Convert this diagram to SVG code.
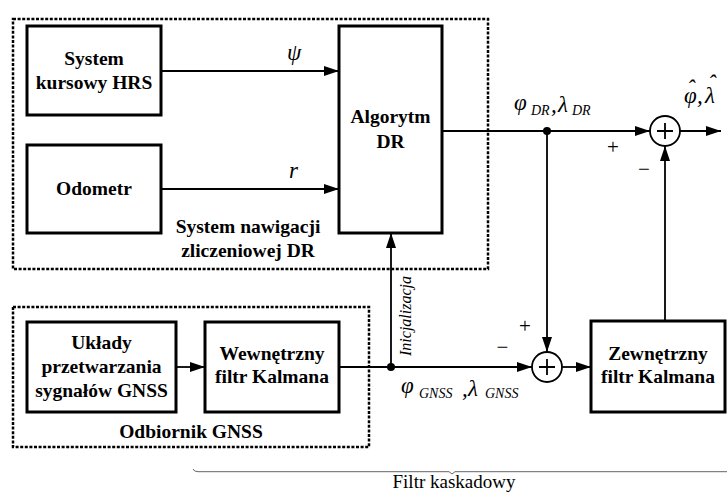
<svg xmlns="http://www.w3.org/2000/svg" width="727" height="492" viewBox="0 0 727 492">
<defs>
<marker id="arr" viewBox="0 0 15 10" refX="15" refY="5" markerWidth="15" markerHeight="10" orient="auto" markerUnits="userSpaceOnUse">
<path d="M0,0 L15,5 L0,10 z" fill="#000"/>
</marker>
</defs>
<style>
text{font-family:'Liberation Serif','Times New Roman',serif;fill:#000}
.box{fill:#fff;stroke:#000;stroke-width:3}
.dash{fill:none;stroke:#000;stroke-width:2.5;stroke-dasharray:3 1.6}
.ln{fill:none;stroke:#000;stroke-width:1.8}
.t{font-weight:bold;font-size:19.5px;text-anchor:middle}
.m{font-style:italic;font-size:23px}
.s{font-style:italic;font-size:14px}
.sg{font-size:21px;text-anchor:middle}
.sum{fill:#fff;stroke:#000;stroke-width:1.8}
</style>
<rect width="727" height="492" fill="#fff"/>

<g id="groups">
<rect id="dr-group" class="dash" x="13" y="19" width="475" height="250"/>
<text class="t" x="248" y="233">System nawigacji</text>
<text class="t" x="248" y="257">zliczeniowej DR</text>
<rect id="gnss-group" class="dash" x="13" y="307" width="356" height="140"/>
<text class="t" x="191" y="438">Odbiornik GNSS</text>
</g>

<g id="connectors">
<path class="ln" d="M161,71 H339" marker-end="url(#arr)"/>
<path class="ln" d="M161,189 H339" marker-end="url(#arr)"/>
<path class="ln" d="M442,131 H650" marker-end="url(#arr)"/>
<path class="ln" d="M680,131 H721" marker-end="url(#arr)"/>
<path class="ln" d="M665,321 V146" marker-end="url(#arr)"/>
<path class="ln" d="M547,131 V352" marker-end="url(#arr)"/>
<path class="ln" d="M176,367 H205" marker-end="url(#arr)"/>
<path class="ln" d="M339,367 H532" marker-end="url(#arr)"/>
<path class="ln" d="M391,367 V233" marker-end="url(#arr)"/>
<path class="ln" d="M562,367 H591" marker-end="url(#arr)"/>
<circle cx="547" cy="131" r="4" fill="#000"/>
<circle cx="391" cy="367" r="4" fill="#000"/>
<text class="m" x="287" y="60">ψ</text>
<text class="m" x="289" y="178">r</text>
<text class="m" x="514" y="110">φ<tspan class="s" x="531" y="115">DR</tspan><tspan x="551" y="112">,</tspan><tspan x="558" y="112">λ</tspan><tspan class="s" x="572" y="115">DR</tspan></text>
<text class="m" x="684" y="103">φ<tspan x="687" y="96">ˆ</tspan><tspan x="697" y="103">,</tspan><tspan x="705" y="103">λ</tspan><tspan x="708" y="91">ˆ</tspan></text>
<text class="m" x="401" y="393">φ<tspan class="s" x="419" y="398">GNSS</tspan><tspan x="462" y="396">,</tspan><tspan x="468" y="396">λ</tspan><tspan class="s" x="485" y="398">GNSS</tspan></text>
<text class="sg" x="613" y="154">+</text>
<text class="sg" x="644" y="176">−</text>
<text class="sg" x="525" y="333">+</text>
<text class="sg" x="502.5" y="354">−</text>
<text font-style="italic" font-size="16" text-anchor="middle" transform="translate(411,316) rotate(-90)">Inicjalizacja</text>
</g>

<g id="hrs">
<rect class="box" x="27" y="26" width="134" height="89"/>
<text class="t" x="94" y="65">System</text>
<text class="t" x="94" y="89">kursowy HRS</text>
</g>
<g id="odometr">
<rect class="box" x="27" y="145" width="134" height="88"/>
<text class="t" x="94" y="195">Odometr</text>
</g>
<g id="algorytm">
<rect class="box" x="339" y="26" width="103" height="207"/>
<text class="t" x="390.5" y="123">Algorytm</text>
<text class="t" x="390.5" y="148">DR</text>
</g>
<g id="uklady">
<rect class="box" x="27" y="322" width="149" height="90"/>
<text class="t" x="101.5" y="349">Układy</text>
<text class="t" x="101.5" y="373">przetwarzania</text>
<text class="t" x="101.5" y="397">sygnałów GNSS</text>
</g>
<g id="wewn">
<rect class="box" x="205" y="322" width="134" height="90"/>
<text class="t" x="272" y="360">Wewnętrzny</text>
<text class="t" x="272" y="383">filtr Kalmana</text>
</g>
<g id="zewn">
<rect class="box" x="591" y="321" width="134" height="91"/>
<text class="t" x="658" y="360">Zewnętrzny</text>
<text class="t" x="658" y="383">filtr Kalmana</text>
</g>
<g id="sum1">
<circle class="sum" cx="665" cy="131" r="15"/>
<path class="ln" d="M657,131 H673 M665,123 V139"/>
</g>
<g id="sum2">
<circle class="sum" cx="547" cy="367" r="15"/>
<path class="ln" d="M539,367 H555 M547,359 V375"/>
</g>
<g id="brace">
<path d="M193,469 Q194,471.7 198,471.7 H449 L452,474 L455,471.7 H727" fill="none" stroke="#666" stroke-width="1"/>
<text font-size="19" text-anchor="middle" x="454" y="488">Filtr kaskadowy</text>
</g>
</svg>
